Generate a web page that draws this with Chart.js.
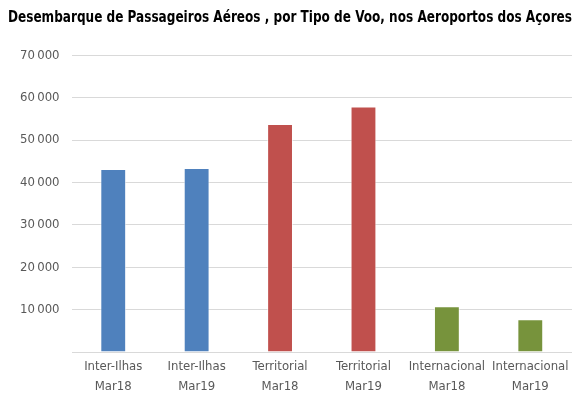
<!DOCTYPE html>
<html>
<head>
<meta charset="utf-8">
<script src="https://cdn.jsdelivr.net/npm/chart.js@4/dist/chart.umd.min.js"></script>
<style>
  html, body { margin: 0; padding: 0; background: #fff; }
  #wrap { width: 578px; height: 401px; }
</style>
</head>
<body>
<div id="wrap"><canvas id="voosChart" width="578" height="401"></canvas></div>
<script>
// Data
const categories = [
    ['Inter-Ilhas', 'Mar18'],
    ['Inter-Ilhas', 'Mar19'],
    ['Territorial', 'Mar18'],
    ['Territorial', 'Mar19'],
    ['Internacional', 'Mar18'],
    ['Internacional', 'Mar19']
];
const passageiros = [43150, 43400, 53800, 57900, 10800, 7750];
const barColors = ['#4f81bd', '#4f81bd', '#c0504d', '#c0504d', '#77933c', '#77933c'];
const yTicks = [0, 10000, 20000, 30000, 40000, 50000, 60000, 70000];

const fontFamily = "'Liberation Sans Narrow', 'DejaVu Sans Condensed', sans-serif";

// Format numbers like "70 000" (no label at zero)
function formatTick(value) {
    if (value === 0) return '';
    return String(value).replace(/\B(?=(\d{3})+(?!\d))/g, '\u2009');
}

const ctx = document.getElementById('voosChart').getContext('2d');
const voosChart = new Chart(ctx, {
    type: 'bar',
    data: {
        labels: categories,
        datasets: [{
            data: passageiros,
            backgroundColor: barColors,
            borderColor: 'rgba(255,255,255,0.6)',
            borderWidth: 1,
            barPercentage: 0.31,
            categoryPercentage: 1.0
        }]
    },
    options: {
        responsive: false,
        animation: false,
        layout: {
            padding: { left: 8, right: 6, top: 0, bottom: 0 }
        },
        plugins: {
            legend: { display: false },
            tooltip: { enabled: false },
            title: {
                display: true,
                text: 'Desembarque de Passageiros Aéreos , por Tipo de Voo, nos Aeroportos dos Açores',
                color: '#000',
                font: { family: fontFamily, size: 16, weight: 'bold' },
                padding: { top: 8, bottom: 28 }
            }
        },
        scales: {
            x: {
                grid: { display: false, drawTicks: false },
                border: { display: false },
                ticks: {
                    color: '#595959',
                    font: { family: fontFamily, size: 13, lineHeight: 1.5 },
                    maxRotation: 0,
                    padding: 5
                }
            },
            y: {
                min: 0,
                max: 70000,
                afterBuildTicks: function (axis) {
                    axis.ticks = yTicks.map(v => ({ value: v }));
                },
                grid: { color: '#d9d9d9', lineWidth: 1, drawTicks: false },
                border: { display: false },
                ticks: {
                    color: '#595959',
                    font: { family: fontFamily, size: 13 },
                    padding: 12,
                    callback: formatTick
                }
            }
        }
    }
});
</script>
</body>
</html>
